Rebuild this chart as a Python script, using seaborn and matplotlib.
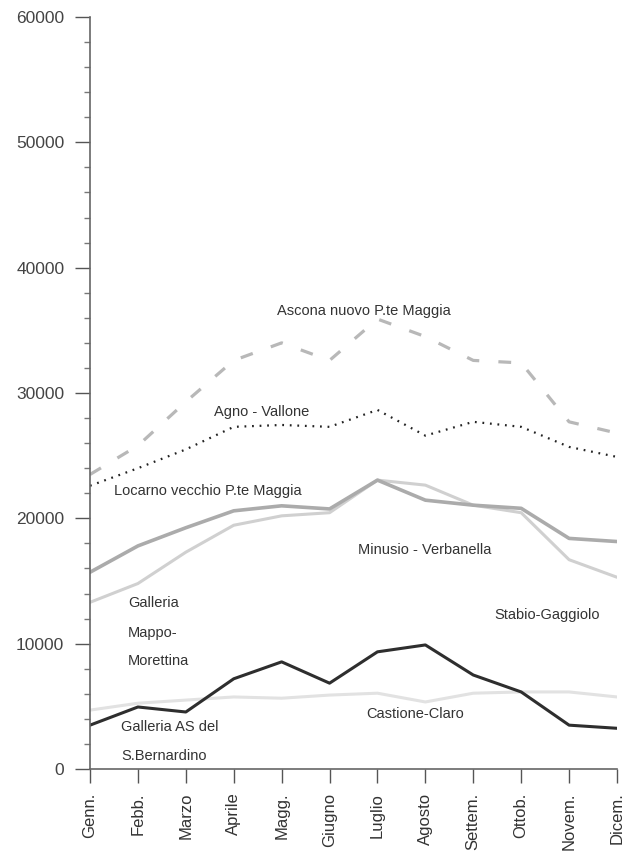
# plot.py
# Monthly traffic at Ticino counting stations, one line per station

import numpy as np
import pandas as pd
import matplotlib.pyplot as plt
import seaborn as sns
from matplotlib.ticker import MultipleLocator

# month labels
months = ["Genn.", "Febb.", "Marzo", "Aprile", "Magg.", "Giugno",
          "Luglio", "Agosto", "Settem.", "Ottob.", "Novem.", "Dicem."]

# values (vehicles per day)
ascona = [23500, 25800, 29300, 32600, 34000, 32600, 35900, 34500, 32600, 32400, 27700, 26800]
agno = [22600, 24000, 25500, 27300, 27450, 27300, 28650, 26600, 27700, 27300, 25700, 24900]
locarno = [15700, 17800, 19250, 20600, 21000, 20750, 23050, 21450, 21050, 20800, 18400, 18150]
minusio = [13300, 14800, 17300, 19450, 20200, 20450, 23050, 22650, 21050, 20450, 16700, 15300]
bernardino = [3500, 4950, 4550, 7200, 8550, 6850, 9350, 9900, 7500, 6150, 3500, 3250]
castione = [4700, 5250, 5500, 5750, 5650, 5900, 6050, 5350, 6050, 6150, 6150, 5750]

sns.set_theme(style="ticks")
plt.rcParams['font.family'] = ['Liberation Sans', 'DejaVu Sans']

fig = plt.figure(figsize=(6.37, 8.58), dpi=100)
ax = fig.add_axes([0.1413, 0.1037, 0.8273, 0.8765])

x = np.arange(len(months))

# light lines first so the dark one sits on top
sns.lineplot(x=x, y=castione, ax=ax, color="#e2e2e2", lw=2.2)
sns.lineplot(x=x, y=minusio, ax=ax, color="#d0d0d0", lw=2.2)
sns.lineplot(x=x, y=locarno, ax=ax, color="#ababab", lw=2.6)
sns.lineplot(x=x, y=ascona, ax=ax, color="#b8b8b8", lw=2.3)
ax.lines[-1].set_dashes([4, 6])
sns.lineplot(x=x, y=agno, ax=ax, color="#222222", lw=1.6)
ax.lines[-1].set_dashes([0.8, 2.6])
sns.lineplot(x=x, y=bernardino, ax=ax, color="#2e2e2e", lw=2.2)

ax.set_xlim(0, 11)
ax.set_ylim(0, 60000)
ax.set_xticks(x)
ax.set_xticklabels(months, rotation=90, fontsize=12, color="#333333")
ax.yaxis.set_major_locator(MultipleLocator(10000))
ax.yaxis.set_minor_locator(MultipleLocator(2000))
ax.tick_params(axis="y", which="major", length=10.5, width=1, color="#555555",
               labelsize=12.5, labelcolor="#444444", pad=8)
ax.tick_params(axis="y", which="minor", length=4.5, width=1, color="#777777")
ax.tick_params(axis="x", which="major", length=10, width=1, color="#555555", pad=7)

sns.despine(ax=ax)
for side in ["left", "bottom"]:
    ax.spines[side].set_color("#666666")
    ax.spines[side].set_linewidth(1.2)

# station labels
lab = dict(fontsize=10.5, color="#333333", ha="left", va="center")
ax.text(3.9, 36550, "Ascona nuovo P.te Maggia", **lab)
ax.text(2.59, 28500, "Agno - Vallone", **lab)
ax.text(0.5, 22200, "Locarno vecchio P.te Maggia", **lab)
ax.text(5.6, 17500, "Minusio - Verbanella", **lab)
ax.text(0.79, 13250, "Galleria", **lab)
ax.text(0.79, 10850, "Mappo-", **lab)
ax.text(0.79, 8600, "Morettina", **lab)
ax.text(8.44, 12300, "Stabio-Gaggiolo", **lab)
ax.text(5.76, 4400, "Castione-Claro", **lab)
ax.text(0.65, 3350, "Galleria AS del", **lab)
ax.text(0.65, 1050, "S.Bernardino", **lab)

fig.savefig("out.png", dpi=100)
